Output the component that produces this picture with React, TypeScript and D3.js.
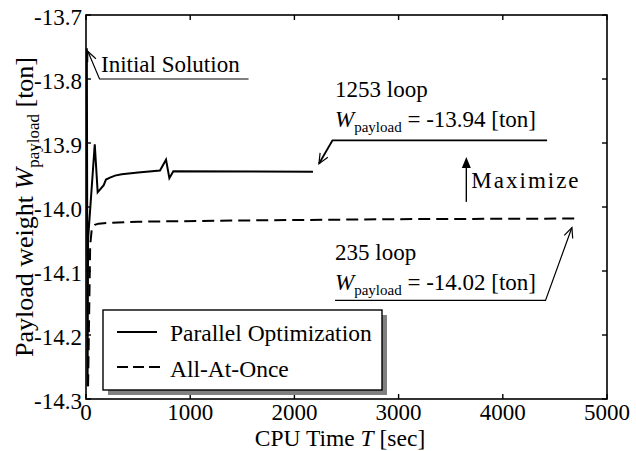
import React from "react";
import * as d3 from "d3";

// Convergence history of the payload weight for the two optimisation schemes
const parallelTime = [8, 15, 20, 84, 112, 134, 170, 192, 230, 278, 343, 500, 710, 768, 800, 838, 2178];
const parallelValue = [-13.752, -14.28, -14.05, -13.902, -13.977, -13.973, -13.966, -13.957, -13.954, -13.951, -13.949, -13.946, -13.943, -13.926, -13.955, -13.944, -13.945];

const allAtOnceTime = [20, 40, 55, 85, 120, 200, 500, 1500, 3000, 4740];
const allAtOnceValue = [-14.28, -14.06, -14.035, -14.028, -14.026, -14.025, -14.023, -14.021, -14.019, -14.018];

const xTicks = [0, 1000, 2000, 3000, 4000, 5000];
const yTicks = [-14.3, -14.2, -14.1, -14.0, -13.9, -13.8, -13.7];
const yTickLabels = ["-14.3", "-14.2", "-14.1", "-14.0", "-13.9", "-13.8", "-13.7"];

const seriesNames = ["Parallel Optimization", "All-At-Once"];
const finalLoops = [1253, 235];
const finalWeights = [-13.94, -14.02];

const W = 636;
const H = 451;
const left = 86;
const right = 607;
const top = 15;
const bottom = 399;
const FS = 23;
const TXT = { fontFamily: '"Liberation Serif"' };

const x = d3.scaleLinear().domain([0, 5000]).range([left, right]);
const y = d3.scaleLinear().domain([-14.3, -13.7]).range([bottom, top]);

const line = d3
  .line<[number, number]>()
  .x((d) => x(d[0]))
  .y((d) => y(d[1]));

function openArrow(tx: number, ty: number, fx: number, fy: number, len = 11, spread = 0.42) {
  const ang = Math.atan2(fy - ty, fx - tx);
  const a1 = ang + spread;
  const a2 = ang - spread;
  return `M${tx + len * Math.cos(a1)},${ty + len * Math.sin(a1)}L${tx},${ty}L${tx + len * Math.cos(a2)},${ty + len * Math.sin(a2)}`;
}

function WeightLabel({ px, py, value }: { px: number; py: number; value: number }) {
  return (
    <text x={px} y={py} fontSize={FS} style={TXT}>
      <tspan fontStyle="italic">W</tspan>
      <tspan fontSize={15} dy={5}>payload</tspan>
      <tspan dy={-5}>{` = ${value.toFixed(2)} [ton]`}</tspan>
    </text>
  );
}

export default function App() {
  const parallelData = parallelTime.map((t, i) => [t, parallelValue[i]] as [number, number]);
  const allData = allAtOnceTime.map((t, i) => [t, allAtOnceValue[i]] as [number, number]);

  // annotation anchors, placed in data space
  const initTip: [number, number] = [x(parallelTime[0]) + 1, y(parallelValue[0]) + 3];
  const initElbow: [number, number] = [x(130), y(-13.8)];
  const initEnd = x(1560);

  const pEndT = parallelTime[parallelTime.length - 1];
  const pTip: [number, number] = [x(pEndT) + 6, y(parallelValue[parallelValue.length - 1]) - 8];
  const pElbow: [number, number] = [x(2365), y(-13.896)];
  const pEnd = x(4425);

  const aEndT = allAtOnceTime[allAtOnceTime.length - 1];
  const aTip: [number, number] = [x(aEndT) - 8, y(allAtOnceValue[allAtOnceValue.length - 1]) + 9];
  const aElbow: [number, number] = [x(4410), y(-14.146)];
  const aStart = x(2390);

  const maxX = x(3650);
  const maxTop = y(-13.922);
  const maxBottom = y(-13.992);

  return (
    <svg
      width={W}
      height={H}
      viewBox={`0 0 ${W} ${H}`}
      style={{ position: "absolute", left: 0, top: 0, background: "#fff" }}
    >
      <rect x={0} y={0} width={W} height={H} fill="#fff" />

      {/* data */}
      <path d={line(allData) || ""} fill="none" stroke="#000" strokeWidth={2} strokeDasharray="12,6" />
      <path d={line(parallelData) || ""} fill="none" stroke="#000" strokeWidth={2} strokeLinejoin="miter" />

      {/* frame */}
      <rect x={left} y={top} width={right - left} height={bottom - top} fill="none" stroke="#000" strokeWidth={1.6} />

      {/* ticks */}
      {xTicks.map((t) => (
        <g key={`xt${t}`}>
          <line x1={x(t)} x2={x(t)} y1={bottom} y2={bottom - 5} stroke="#000" strokeWidth={1.4} />
          <line x1={x(t)} x2={x(t)} y1={top} y2={top + 5} stroke="#000" strokeWidth={1.4} />
          <text x={x(t)} y={420} textAnchor="middle" fontSize={FS} style={TXT}>
            {t}
          </text>
        </g>
      ))}
      {yTicks.map((v, i) => (
        <g key={`yt${v}`}>
          <line x1={left} x2={left + 5} y1={y(v)} y2={y(v)} stroke="#000" strokeWidth={1.4} />
          <line x1={right} x2={right - 5} y1={y(v)} y2={y(v)} stroke="#000" strokeWidth={1.4} />
          <text x={82} y={y(v) + 10} textAnchor="end" fontSize={FS} style={TXT}>
            {yTickLabels[i]}
          </text>
        </g>
      ))}

      {/* axis titles */}
      <text x={340} y={446} textAnchor="middle" fontSize={23.5} style={TXT}>
        CPU Time <tspan fontStyle="italic">T</tspan> [sec]
      </text>
      <text transform={`translate(33, 207) rotate(-90)`} textAnchor="middle" fontSize={26} style={TXT}>
        Payload weight <tspan fontStyle="italic">W</tspan>
        <tspan fontSize={17} dy={5.5}>payload</tspan>
        <tspan dy={-5.5}> [ton]</tspan>
      </text>

      {/* initial solution */}
      <path d={openArrow(initTip[0], initTip[1], initElbow[0], initElbow[1])} fill="none" stroke="#000" strokeWidth={1.2} />
      <path d={`M${initTip[0]},${initTip[1]}L${initElbow[0]},${initElbow[1]}H${initEnd}`} fill="none" stroke="#000" strokeWidth={1.2} />
      <text x={101} y={72} fontSize={FS} style={TXT}>
        Initial Solution
      </text>

      {/* parallel result */}
      <text x={335} y={97} fontSize={FS} style={TXT}>
        {`${finalLoops[0]} loop`}
      </text>
      <WeightLabel px={335} py={127} value={finalWeights[0]} />
      <path d={`M${pEnd},${pElbow[1]}H${pElbow[0]}L${pTip[0]},${pTip[1]}`} fill="none" stroke="#000" strokeWidth={1.8} />
      <path d={openArrow(pTip[0], pTip[1], pElbow[0], pElbow[1])} fill="none" stroke="#000" strokeWidth={1.2} />

      {/* maximize */}
      <line x1={maxX} x2={maxX} y1={maxBottom} y2={maxTop + 8} stroke="#000" strokeWidth={1.4} />
      <path d={`M${maxX},${maxTop}L${maxX - 4.5},${maxTop + 11}L${maxX + 4.5},${maxTop + 11}Z`} fill="#000" />
      <text x={maxX + 5} y={188} fontSize={FS} letterSpacing={2} style={TXT}>
        Maximize
      </text>

      {/* all-at-once result */}
      <text x={335} y={260} fontSize={FS} style={TXT}>
        {`${finalLoops[1]} loop`}
      </text>
      <WeightLabel px={335} py={290} value={finalWeights[1]} />
      <path d={`M${aStart},${aElbow[1]}H${aElbow[0]}L${aTip[0]},${aTip[1]}`} fill="none" stroke="#000" strokeWidth={1.2} />
      <path d={openArrow(aTip[0], aTip[1], aElbow[0], aElbow[1])} fill="none" stroke="#000" strokeWidth={1.2} />

      {/* legend */}
      <rect x={108} y={315} width={279} height={80} fill="#808080" />
      <rect x={103} y={310} width={279} height={80} fill="#fff" stroke="#000" strokeWidth={1.4} />
      <line x1={117} x2={157} y1={332} y2={332} stroke="#000" strokeWidth={2} />
      <text x={170} y={341} fontSize={23.5} style={TXT}>
        {seriesNames[0]}
      </text>
      <line x1={117} x2={160} y1={367} y2={367} stroke="#000" strokeWidth={2} strokeDasharray="11,5" />
      <text x={170} y={377} fontSize={23.5} style={TXT}>
        {seriesNames[1]}
      </text>
    </svg>
  );
}
